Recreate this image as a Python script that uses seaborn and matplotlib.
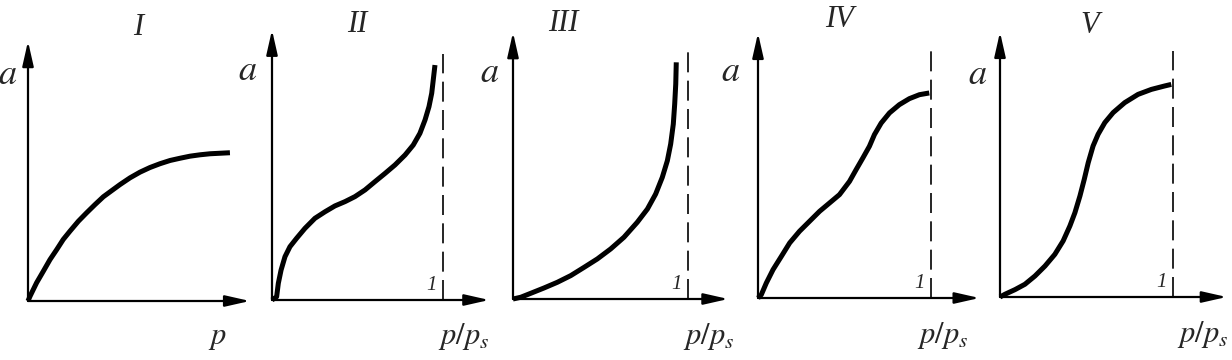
import matplotlib
matplotlib.use('Agg')
import pandas as pd
import matplotlib.pyplot as plt
import seaborn as sns

sns.set_style('white')
plt.rcParams['mathtext.fontset'] = 'stix'
plt.rcParams['font.family'] = ['Liberation Serif', 'DejaVu Sans']

titles = ['I', 'II', 'III', 'IV', 'V']
x_labels = ['$p$', '$p/p_s$', '$p/p_s$', '$p/p_s$', '$p/p_s$']

# isotherm curves (x = p/ps, y = a)
type1_x = [0, 0.012, 0.050, 0.089, 0.128, 0.167, 0.205, 0.244, 0.293, 0.341,
           0.390, 0.438, 0.487, 0.535, 0.593, 0.651, 0.709, 0.767, 0.826,
           0.884, 0.942, 1.000, 1.058, 1.116, 1.174]
type1_y = [0, 0.028, 0.106, 0.173, 0.241, 0.299, 0.358, 0.406, 0.464, 0.513,
           0.561, 0.606, 0.642, 0.677, 0.716, 0.749, 0.776, 0.798, 0.817,
           0.830, 0.842, 0.850, 0.856, 0.859, 0.862]

type2_x = [0, 0.027, 0.037, 0.053, 0.076, 0.105, 0.144, 0.193, 0.251, 0.310,
           0.368, 0.427, 0.485, 0.544, 0.602, 0.661, 0.719, 0.778, 0.826,
           0.865, 0.895, 0.918, 0.934, 0.943, 0.953]
type2_y = [0, 0.019, 0.097, 0.174, 0.252, 0.310, 0.359, 0.417, 0.475, 0.513,
           0.547, 0.572, 0.601, 0.640, 0.688, 0.736, 0.785, 0.843, 0.901,
           0.969, 1.047, 1.124, 1.202, 1.279, 1.366]

type3_x = [0, 0.044, 0.101, 0.177, 0.253, 0.330, 0.406, 0.482, 0.558, 0.634,
           0.710, 0.768, 0.815, 0.853, 0.882, 0.901, 0.916, 0.924, 0.930, 0.933]
type3_y = [0, 0.010, 0.033, 0.064, 0.097, 0.136, 0.184, 0.233, 0.291, 0.359,
           0.446, 0.523, 0.610, 0.707, 0.804, 0.901, 1.017, 1.134, 1.250, 1.376]

type4_x = [0, 0.019, 0.048, 0.087, 0.135, 0.183, 0.240, 0.298, 0.356, 0.413,
           0.471, 0.529, 0.567, 0.606, 0.644, 0.673, 0.712, 0.760, 0.817,
           0.875, 0.933, 0.990]
type4_y = [0, 0.019, 0.087, 0.165, 0.242, 0.320, 0.388, 0.446, 0.504, 0.552,
           0.601, 0.678, 0.746, 0.814, 0.882, 0.950, 1.017, 1.076, 1.124,
           1.159, 1.182, 1.192]

type5_x = [0, 0.029, 0.087, 0.144, 0.202, 0.260, 0.317, 0.365, 0.404, 0.433,
           0.462, 0.487, 0.510, 0.538, 0.567, 0.606, 0.654, 0.721, 0.798,
           0.875, 0.952, 0.990]
type5_y = [0, 0.016, 0.043, 0.074, 0.122, 0.180, 0.248, 0.326, 0.413, 0.490,
           0.587, 0.684, 0.781, 0.878, 0.946, 1.014, 1.072, 1.130, 1.178,
           1.207, 1.227, 1.236]

curves = [(type1_x, type1_y), (type2_x, type2_y), (type3_x, type3_y),
          (type4_x, type4_y), (type5_x, type5_y)]
has_limit = [False, True, True, True, True]

# layout in pixels: origin of each panel and pixels per unit of p/ps
W, H = 1232, 360
origins = [(28, 301), (272, 300), (513, 299), (758, 298), (1000, 297)]
x_units = [172, 171, 175, 173, 173]
y_unit = 172
xlim = (-0.25, 1.4)
ylim = (-0.33, 1.72)
x_arrow = [1.29, 1.27, 1.23, 1.28, 1.31]
y_arrow = [1.51, 1.57, 1.55, 1.54, 1.54]
dash_top = [0, 1.43, 1.44, 1.44, 1.43]
a_pos = [(-0.12, 1.31), (-0.14, 1.33), (-0.135, 1.31), (-0.16, 1.31), (-0.13, 1.29)]
title_pos = [(0.64, 1.59), (0.5, 1.6), (0.29, 1.6), (0.47, 1.62), (0.52, 1.58)]
xlab_pos = [(1.10, -0.21), (1.12, -0.215), (1.12, -0.22), (1.07, -0.22), (1.17, -0.22)]

fig = plt.figure(figsize=(W / 100, H / 100), dpi=100)

for i in range(5):
    ox, oy = origins[i]
    ux = x_units[i]
    left = ox + xlim[0] * ux
    width = (xlim[1] - xlim[0]) * ux
    bottom = H - (oy - ylim[0] * y_unit)
    height = (ylim[1] - ylim[0]) * y_unit
    ax = fig.add_axes([left / W, bottom / H, width / W, height / H])
    ax.set_xlim(*xlim)
    ax.set_ylim(*ylim)
    ax.axis('off')
    ax.patch.set_alpha(0)

    arrow = dict(arrowstyle='-|>,head_length=0.75,head_width=0.17', lw=1.6,
                 color='black', shrinkA=0, shrinkB=0, mutation_scale=20)
    ax.annotate('', xy=(0, y_arrow[i]), xytext=(0, 0), arrowprops=arrow,
                annotation_clip=False)
    ax.annotate('', xy=(x_arrow[i], 0), xytext=(0, 0), arrowprops=arrow,
                annotation_clip=False)

    cx, cy = curves[i]
    df = pd.DataFrame({'x': cx, 'y': cy})
    sns.lineplot(data=df, x='x', y='y', ax=ax, color='black', linewidth=3.6,
                 solid_capstyle='butt', solid_joinstyle='round', sort=False)
    ax.lines[-1].set_clip_on(False)

    if has_limit[i]:
        ax.plot([1, 1], [0, dash_top[i]], color='black', lw=1.2,
                dashes=(12, 5), clip_on=False)
        ax.text(0.935, 0.085, '1', fontsize=15, style='italic',
                ha='center', va='center')

    ax.text(*a_pos[i], '$a$', fontsize=26, ha='center', va='center')
    ax.text(*title_pos[i], titles[i], fontsize=22, style='italic',
            ha='center', va='center')
    ax.text(*xlab_pos[i], x_labels[i], fontsize=22, ha='center', va='center')
    ax.set_xlabel('')
    ax.set_ylabel('')

fig.savefig('out.png', dpi=100)
